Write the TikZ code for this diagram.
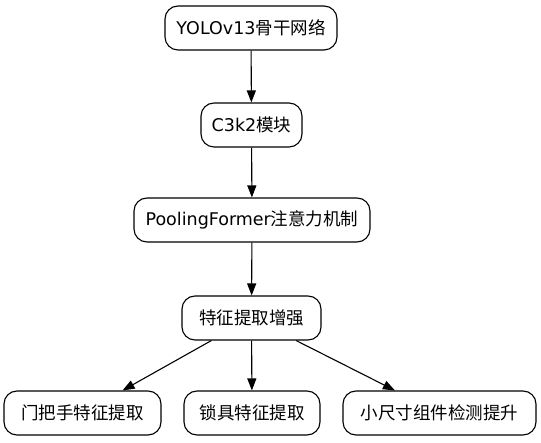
\documentclass[tikz,border=0pt]{standalone}
\usepackage{fontspec}
\setmainfont{DejaVu Sans}
\newfontfamily\cjk{Noto Sans CJK SC}
\usetikzlibrary{arrows.meta}
\begin{document}
\begin{tikzpicture}[x=1pt,y=-1pt,
  box/.style={draw, line width=1.1pt, rounded corners=13pt, minimum height=44pt, inner sep=0pt, font=\fontsize{17.5}{20}\selectfont},
  arr/.style={line width=1.1pt, -{Triangle[length=12pt,width=9pt]}}]
\useasboundingbox (0,0) rectangle (541,443);
\node[box, minimum width=172pt] (a) at (251,28) {YOLOv13{\cjk 骨干网络}};
\node[box, minimum width=101pt] (b) at (251.5,125) {C3k2{\cjk 模块}};
\node[box, minimum width=236pt] (c) at (252,220) {PoolingFormer{\cjk 注意力机制}};
\node[box, minimum width=139pt] (d) at (251.5,318) {{\cjk 特征提取增强}};
\node[box, minimum width=157pt] (e) at (82.5,413) {{\cjk 门把手特征提取}};
\node[box, minimum width=136pt] (f) at (252,413) {{\cjk 锁具特征提取}};
\node[box, minimum width=193pt] (g) at (439.5,413) {{\cjk 小尺寸组件检测提升}};
\draw[arr] (a) -- (b);
\draw[arr] (b) -- (c);
\draw[arr] (c) -- (d);
\draw[arr] (d) -- (e);
\draw[arr] (d) -- (f);
\draw[arr] (d) -- (g);
\end{tikzpicture}
\end{document}
